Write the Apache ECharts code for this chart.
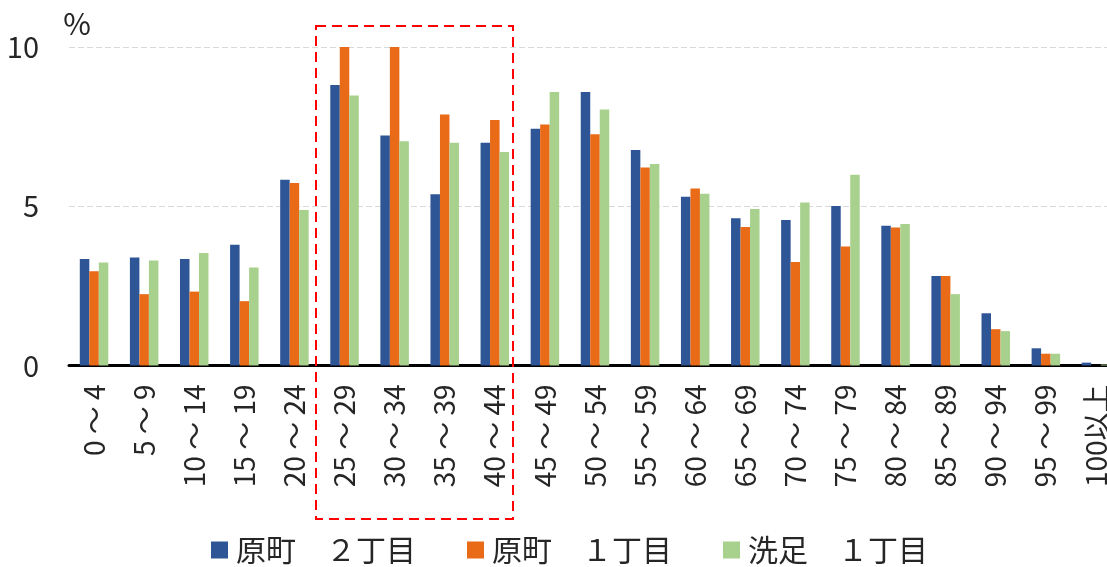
<!DOCTYPE html>
<html>
<head>
<meta charset="utf-8">
<script src="https://cdn.jsdelivr.net/npm/echarts@6/dist/echarts.min.js"></script>
<style>
html,body{margin:0;padding:0;background:#fff;}
#main{width:1107px;height:567px;}
</style>
</head>
<body>
<div id="main"></div>
<script>
var categories = ["0 ～ 4","5 ～ 9","10 ～ 14","15 ～ 19","20 ～ 24","25 ～ 29","30 ～ 34","35 ～ 39","40 ～ 44","45 ～ 49","50 ～ 54","55 ～ 59","60 ～ 64","65 ～ 69","70 ～ 74","75 ～ 79","80 ～ 84","85 ～ 89","90 ～ 94","95 ～ 99","100以上"];
var seriesNames = ["原町　２丁目", "原町　１丁目", "洗足　１丁目"];
var haramachi2 = [3.34,3.39,3.34,3.79,5.83,8.81,7.22,5.38,6.99,7.43,8.59,6.77,5.30,4.62,4.57,5.01,4.39,2.81,1.64,0.54,0.09];
var haramachi1 = [2.96,2.24,2.32,2.02,5.73,10.0,10.0,7.88,7.71,7.57,7.26,6.22,5.56,4.35,3.25,3.74,4.33,2.81,1.14,0.37,0];
var senzoku1   = [3.23,3.30,3.53,3.08,4.88,8.48,7.04,6.99,6.70,8.59,8.04,6.33,5.39,4.91,5.12,5.99,4.44,2.24,1.08,0.37,0.03];
var yTicks = {min: 0, max: 10, interval: 5};

var FONT = "'Noto Sans CJK JP', 'Noto Sans', sans-serif";
var colors = ['#2E5596', '#E96A17', '#A9D18E'];
var chart = echarts.init(document.getElementById('main'));
var dataSets = [haramachi2, haramachi1, senzoku1];

chart.setOption({
  animation: false,
  color: colors,
  textStyle: {fontFamily: FONT},
  grid: {left: 69, width: 1052, top: 47, height: 318.5, containLabel: false, outerBoundsMode: 'none'},
  legend: {
    left: 206, top: 530,
    icon: 'rect', itemWidth: 17, itemHeight: 17, itemGap: 51,
    textStyle: {fontFamily: FONT, fontSize: 30, color: '#262626', padding: [0,0,0,3]},
    data: seriesNames
  },
  xAxis: {
    type: 'category',
    data: categories,
    axisLine: {lineStyle: {color: '#000', width: 3}},
    axisTick: {show: false},
    axisLabel: {rotate: 90, margin: 19, fontSize: 28, color: '#262626', fontFamily: FONT, interval: 0}
  },
  yAxis: {
    type: 'value',
    min: yTicks.min, max: yTicks.max, interval: yTicks.interval,
    name: '%',
    nameLocation: 'end',
    nameGap: 8,
    nameTextStyle: {fontSize: 30, color: '#262626', fontFamily: FONT, align: 'center', padding: [0,0,0,16]},
    axisLine: {show: false},
    axisTick: {show: false},
    axisLabel: {fontSize: 29, color: '#262626', margin: 30, fontFamily: FONT},
    splitLine: {lineStyle: {color: '#d9d9d9', width: 1, type: [6, 3]}}
  },
  series: seriesNames.map(function (n, i) {
    return {
      name: n,
      type: 'bar',
      data: dataSets[i],
      barWidth: 9.5,
      barGap: '0%',
      itemStyle: {color: colors[i]}
    };
  }),
  graphic: [{
    type: 'rect',
    z: 100,
    shape: {x: 316, y: 26, width: 197, height: 493},
    style: {fill: null, stroke: '#FF0000', lineWidth: 2, lineDash: [10, 6]}
  }]
});
</script>
</body>
</html>
